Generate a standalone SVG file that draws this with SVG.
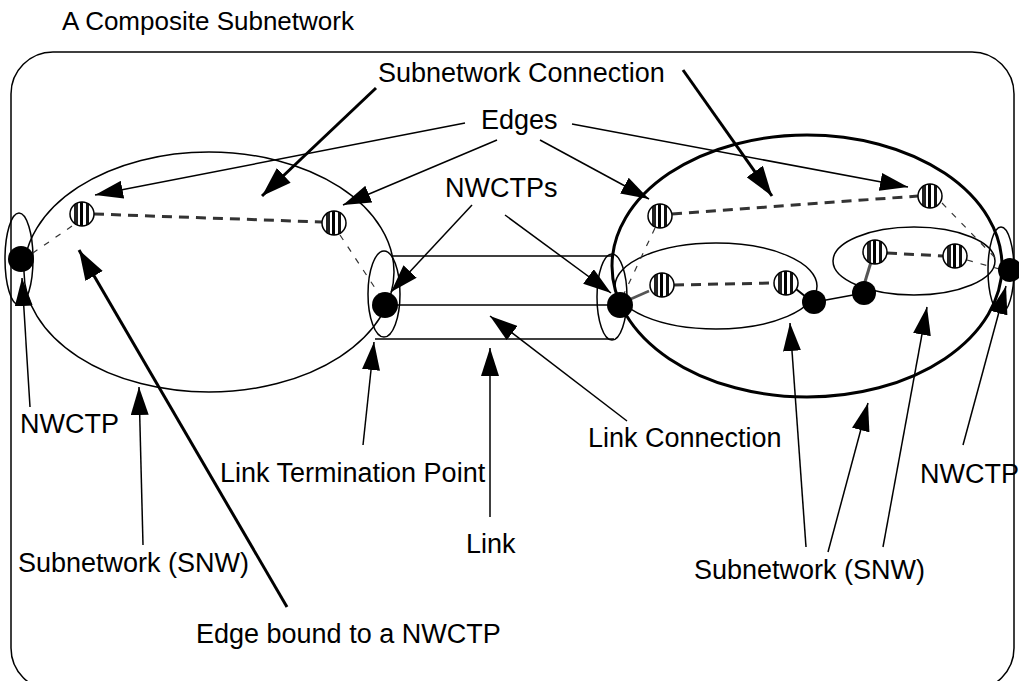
<svg xmlns="http://www.w3.org/2000/svg" width="1019" height="681" viewBox="0 0 1019 681">
<style>
.lbl{font-family:"Liberation Sans",Arial,sans-serif;font-size:27px;fill:#000}
.ttl{font-family:"Liberation Sans",Arial,sans-serif;font-size:26px;fill:#000}
.snw{fill:none;stroke:#000;stroke-width:1.5}
.snwb{fill:none;stroke:#000;stroke-width:3}
.dot{fill:#000}
.ctp{fill:url(#stripes);stroke:#000;stroke-width:1.5}
.edge{stroke:#333;stroke-width:3;stroke-dasharray:10 7;fill:none}
.bind{stroke:#333;stroke-width:1.2;stroke-dasharray:6 8;fill:none}
.thin{stroke:#000;stroke-width:1.5;fill:none;marker-end:url(#ah)}
.thick{stroke:#000;stroke-width:3;fill:none;marker-end:url(#ahb)}
.link{stroke:#000;stroke-width:1.5;fill:none}
</style>
<defs>
<linearGradient id="stripes" x1="0" y1="0" x2="1" y2="0">
<stop offset="0" stop-color="#fff"/><stop offset="0.18" stop-color="#fff"/>
<stop offset="0.18" stop-color="#222"/><stop offset="0.32" stop-color="#222"/>
<stop offset="0.32" stop-color="#fff"/><stop offset="0.42" stop-color="#fff"/>
<stop offset="0.42" stop-color="#000"/><stop offset="0.56" stop-color="#000"/>
<stop offset="0.56" stop-color="#fff"/><stop offset="0.66" stop-color="#fff"/>
<stop offset="0.66" stop-color="#111"/><stop offset="0.8" stop-color="#111"/>
<stop offset="0.8" stop-color="#fff"/><stop offset="1" stop-color="#fff"/>
</linearGradient>
<marker id="ah" viewBox="0 0 28 18" refX="28" refY="9" markerWidth="28" markerHeight="18" markerUnits="userSpaceOnUse" orient="auto">
<path d="M0,0 L28,9 L0,18 z" fill="#000"/>
</marker>
<marker id="ahb" viewBox="0 0 30 20" refX="30" refY="10" markerWidth="30" markerHeight="20" markerUnits="userSpaceOnUse" orient="auto">
<path d="M0,0 L30,10 L0,20 z" fill="#000"/>
</marker>
</defs>

<rect id="frame" x="11" y="52" width="1003" height="638" rx="42" ry="42" fill="none" stroke="#000" stroke-width="1.5"/>
<text class="ttl" x="62" y="30">A Composite Subnetwork</text>

<g id="snw-left"><ellipse class="snw" cx="209" cy="272" rx="185" ry="120"/></g>
<g id="snw-right-outer"><ellipse class="snwb" cx="807" cy="266" rx="195" ry="131"/></g>
<g id="snw-right-inner1"><ellipse class="snw" cx="716" cy="286" rx="101" ry="43"/></g>
<g id="snw-right-inner2"><ellipse class="snw" cx="914" cy="261" rx="81" ry="34"/></g>

<g id="link">
<line class="link" x1="393" y1="256" x2="614" y2="256"/>
<line class="link" x1="385" y1="305" x2="620" y2="305"/>
<line class="link" x1="375" y1="339" x2="614" y2="339"/>
<ellipse class="snw" cx="612" cy="297" rx="15" ry="43"/>
</g>
<g id="ltp-left"><ellipse class="snw" cx="384" cy="294" rx="16" ry="43"/></g>
<g id="nwctp-left-ring"><ellipse class="snw" cx="19" cy="259" rx="14" ry="46"/></g>
<g id="nwctp-right-ring"><ellipse class="snw" cx="1001" cy="270" rx="13" ry="43"/></g>

<g id="connectors">
<line class="edge" x1="94" y1="214" x2="322" y2="222"/>
<line class="edge" x1="672" y1="214" x2="918" y2="196"/>
<line class="edge" x1="674" y1="285" x2="774" y2="283"/>
<line class="edge" x1="887" y1="253" x2="943" y2="256"/>
<line class="bind" x1="72" y1="226" x2="30" y2="255"/>
<line class="bind" x1="340" y1="235" x2="381" y2="297"/>
<line class="bind" x1="655" y1="228" x2="622" y2="298"/>
<line class="bind" x1="942" y1="203" x2="1005" y2="268"/>
<line class="bind" x1="967" y1="260" x2="1003" y2="270"/>
<line x1="624" y1="302" x2="649" y2="291" stroke="#555" stroke-width="2.5"/>
<line x1="796" y1="289" x2="806" y2="297" stroke="#000" stroke-width="2"/>
<line x1="871" y1="262" x2="864" y2="285" stroke="#555" stroke-width="3"/>
<line x1="815" y1="302" x2="864" y2="293" stroke="#000" stroke-width="1.5"/>

<line class="thick" x1="376" y1="88" x2="262" y2="196"/>
<line class="thick" x1="683" y1="70" x2="772" y2="196"/>
<line class="thick" x1="287" y1="607" x2="79" y2="250"/>
<line class="thin" x1="465" y1="123" x2="95" y2="195"/>
<line class="thin" x1="497" y1="140" x2="343" y2="205"/>
<line class="thin" x1="540" y1="140" x2="649" y2="199"/>
<line class="thin" x1="572" y1="124" x2="908" y2="187"/>
<line class="thin" x1="472" y1="205" x2="391" y2="292"/>
<line class="thin" x1="505" y1="215" x2="611" y2="293"/>
<line class="thin" x1="627" y1="421" x2="490" y2="316"/>
<line class="thin" x1="490" y1="517" x2="490" y2="348"/>
<line class="thin" x1="363" y1="445" x2="374" y2="342"/>
<line class="thin" x1="30" y1="407" x2="22" y2="278"/>
<line class="thin" x1="143" y1="545" x2="139" y2="387"/>
<line class="thin" x1="806" y1="547" x2="790" y2="323"/>
<line class="thin" x1="828" y1="552" x2="868" y2="403"/>
<line class="thin" x1="883" y1="547" x2="927" y2="307"/>
<line class="thin" x1="963" y1="445" x2="1006" y2="286"/>
</g>

<g id="nwctp-l1"><circle class="dot" cx="21" cy="259" r="13"/></g>
<g id="nwctp-l2"><circle class="dot" cx="385" cy="305" r="13"/></g>
<g id="nwctp-r1"><circle class="dot" cx="620" cy="305" r="13"/></g>
<g id="nwctp-r2"><circle class="dot" cx="814" cy="302" r="12"/></g>
<g id="nwctp-r3"><circle class="dot" cx="864" cy="293" r="12"/></g>
<g id="nwctp-r4"><circle class="dot" cx="1010" cy="270" r="12"/></g>

<g id="ctp-1"><circle class="ctp" cx="82" cy="214" r="12"/></g>
<g id="ctp-2"><circle class="ctp" cx="334" cy="223" r="12"/></g>
<g id="ctp-3"><circle class="ctp" cx="660" cy="216" r="12"/></g>
<g id="ctp-4"><circle class="ctp" cx="662" cy="285" r="12"/></g>
<g id="ctp-5"><circle class="ctp" cx="786" cy="283" r="12"/></g>
<g id="ctp-6"><circle class="ctp" cx="930" cy="196" r="12"/></g>
<g id="ctp-7"><circle class="ctp" cx="875" cy="252" r="12"/></g>
<g id="ctp-8"><circle class="ctp" cx="955" cy="256" r="12"/></g>

<g id="labels">
<text class="lbl" x="378" y="82">Subnetwork Connection</text>
<text class="lbl" x="481" y="129">Edges</text>
<text class="lbl" x="445" y="197">NWCTPs</text>
<text class="lbl" x="20" y="433">NWCTP</text>
<text class="lbl" x="920" y="483">NWCTP</text>
<text class="lbl" x="220" y="482">Link Termination Point</text>
<text class="lbl" x="588" y="447">Link Connection</text>
<text class="lbl" x="466" y="553">Link</text>
<text class="lbl" x="18" y="572">Subnetwork (SNW)</text>
<text class="lbl" x="694" y="579">Subnetwork (SNW)</text>
<text class="lbl" x="196" y="643">Edge bound to a NWCTP</text>
</g>
</svg>
